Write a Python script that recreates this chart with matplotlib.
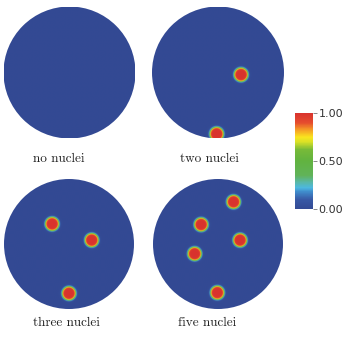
import numpy as np
import matplotlib
matplotlib.use('Agg')
import matplotlib.pyplot as plt
from matplotlib.colors import LinearSegmentedColormap
from matplotlib.patches import Circle

# panel titles and nucleus centres (unit-disk coordinates)
titles = ['no nuclei', 'two nuclei', 'three nuclei', 'five nuclei']
nuclei_x = [[], [0.35, -0.02], [-0.26, 0.35, 0.0], [0.24, -0.26, 0.34, -0.36, -0.01]]
nuclei_y = [[], [-0.04, -0.94], [0.31, 0.06, -0.76], [0.65, 0.30, 0.06, -0.15, -0.75]]
nucleus_radius = 0.105
cbar_ticks = [0.0, 0.5, 1.0]

W, H = 346, 338
# disk centre / radius in pixels, label position
disk_px = [(69.5, 72.5, 66), (218, 72.5, 66), (69, 244, 65), (218, 244, 65)]
label_px = [(59, 159), (209, 159), (66, 323), (207, 323)]

cmap = LinearSegmentedColormap.from_list('pv', [
    (0.00, (0.20, 0.29, 0.58)),
    (0.10, (0.22, 0.35, 0.65)),
    (0.18, (0.25, 0.55, 0.80)),
    (0.22, (0.30, 0.72, 0.88)),
    (0.28, (0.35, 0.72, 0.65)),
    (0.35, (0.38, 0.70, 0.35)),
    (0.50, (0.38, 0.70, 0.25)),
    (0.62, (0.47, 0.73, 0.22)),
    (0.70, (0.85, 0.88, 0.15)),
    (0.75, (0.98, 0.90, 0.12)),
    (0.83, (0.96, 0.60, 0.15)),
    (0.90, (0.90, 0.30, 0.18)),
    (1.00, (0.85, 0.20, 0.18)),
])

fig = plt.figure(figsize=(W / 100, H / 100), dpi=100)

n = 500
g = np.linspace(-1, 1, n)
X, Y = np.meshgrid(g, g)

for i in range(4):
    cx, cy, r = disk_px[i]
    ax = fig.add_axes([(cx - r) / W, 1 - (cy + r) / H, 2 * r / W, 2 * r / H])
    phi = np.zeros_like(X)
    for nx, ny in zip(nuclei_x[i], nuclei_y[i]):
        d = np.hypot(X - nx, Y - ny)
        phi = np.maximum(phi, 0.5 * (1 - np.tanh((d - nucleus_radius) / 0.018)))
    im = ax.imshow(phi, extent=(-1, 1, -1, 1), origin='lower', cmap=cmap,
                   vmin=0, vmax=1, interpolation='bilinear')
    im.set_clip_path(Circle((0, 0), 1, transform=ax.transData))
    ax.set_xlim(-1, 1)
    ax.set_ylim(-1, 1)
    ax.axis('off')
    lx, ly = label_px[i]
    fig.text(lx / W, 1 - ly / H, titles[i], ha='center', va='center',
             fontsize=9.5, family='cmr10', color='#222222')

cax = fig.add_axes([295 / W, 1 - 209 / H, 18 / W, 96 / H])
cb = fig.colorbar(im, cax=cax, ticks=cbar_ticks, format='%.2f')
cb.outline.set_visible(False)
cax.tick_params(length=3, width=0.6, color='#777777', labelsize=8,
                labelcolor='#333333', pad=1)

fig.savefig('out.png', dpi=100)
